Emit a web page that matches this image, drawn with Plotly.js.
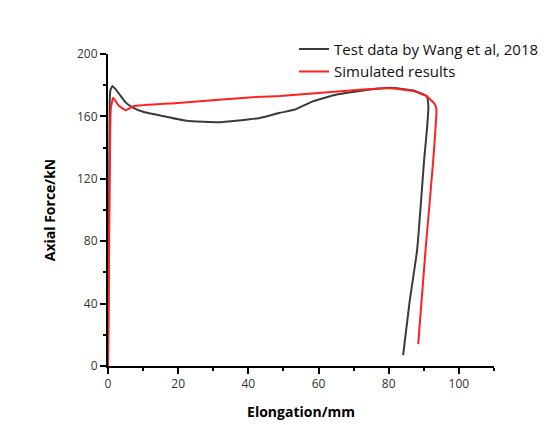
<!DOCTYPE html>
<html>
<head>
<meta charset="utf-8">
<script src="https://cdn.plot.ly/plotly-3.0.1.min.js"></script>
<style>html,body{margin:0;padding:0;background:#fff;}#chart{width:557px;height:425px;}</style>
</head>
<body>
<div id="chart"></div>
<script>
// Test data by Wang et al, 2018
const testX = [0, 0.3, 0.5, 0.7, 1.3, 3, 5, 7.1, 10, 14.8, 22.4, 31.9, 38, 43.3, 49, 53.3, 58.5, 65.2, 72.7, 80.3, 87, 90.8, 91.3, 90.9, 90.1, 88.1, 86, 84.1];
const testY = [0, 100, 170, 177, 179.5, 175, 169, 165.7, 163, 160.6, 157.2, 156.3, 157.5, 159, 162.3, 164.4, 169.8, 174, 176.6, 178.3, 176.6, 173, 166.6, 152, 132.3, 74.5, 42, 7];
// Simulated results
const simX = [0, 0.5, 0.8, 1.5, 3, 5.1, 7.2, 20, 43.3, 49, 72.7, 80.3, 87, 90.8, 93.2, 93.6, 92.7, 90.5, 88.4];
const simY = [0, 120, 165, 172, 167, 164, 166.5, 168.6, 172.6, 173, 177.3, 178, 176.2, 173, 167.6, 164.4, 132.3, 74.5, 14];

const xTickVals = [0, 20, 40, 60, 80, 100];
const yTickVals = [0, 40, 80, 120, 160, 200];

const font = "Open Sans, Liberation Sans, sans-serif";

const data = [
  {x: testX, y: testY, mode: 'lines', name: 'Test data by Wang et al, 2018',
   line: {color: '#3a3a3a', width: 2, shape: 'spline', smoothing: 0.4}},
  {x: simX, y: simY, mode: 'lines', name: 'Simulated results',
   line: {color: '#ff2020', width: 2, shape: 'spline', smoothing: 0.4}}
];

const axisCommon = {
  showgrid: false, zeroline: false, showline: true, linecolor: '#000', linewidth: 2,
  ticks: 'outside', ticklen: 6, tickwidth: 2, tickcolor: '#000',
  tickfont: {family: font, size: 12, color: '#333'}
};

const layout = {
  width: 557, height: 425,
  margin: {l: 108, r: 63, t: 54, b: 59},
  paper_bgcolor: '#fff', plot_bgcolor: '#fff',
  showlegend: true,
  legend: {x: 0.482, y: 1.068, xanchor: 'left', yanchor: 'top', bgcolor: 'rgba(0,0,0,0)',
    font: {family: font, size: 15, color: '#111'}, tracegroupgap: 0},
  xaxis: Object.assign({}, axisCommon, {
    range: [0, 110], tickvals: xTickVals, ticktext: xTickVals.map(String),
    minor: {dtick: 10, tick0: 0, ticklen: 3, tickwidth: 2, tickcolor: '#000', ticks: 'outside'},
    title: {text: '<b>Elongation/mm</b>', font: {family: font, size: 14, color: '#000'}, standoff: 16}
  }),
  yaxis: Object.assign({}, axisCommon, {
    range: [0, 200], tickvals: yTickVals, ticktext: yTickVals.map(String),
    minor: {dtick: 20, tick0: 0, ticklen: 3, tickwidth: 2, tickcolor: '#000', ticks: 'outside'},
    title: {text: '<b>Axial Force/kN</b>', font: {family: font, size: 14, color: '#000'}, standoff: 18}
  })
};

Plotly.newPlot('chart', data, layout, {displayModeBar: false, staticPlot: true});
</script>
</body>
</html>
